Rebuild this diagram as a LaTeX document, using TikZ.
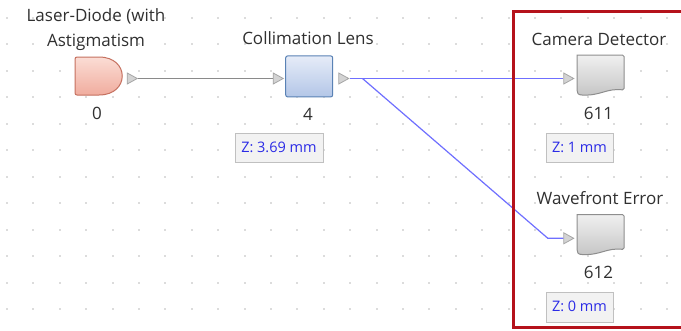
\documentclass[tikz,border=0pt]{standalone}
\usepackage{fontspec}
\setmainfont{Open Sans}
\usetikzlibrary{shapes.geometric,calc}

\definecolor{gridgray}{HTML}{DCDCDC}
\definecolor{labeltext}{HTML}{303030}
\definecolor{zblue}{HTML}{2B2BE6}
\definecolor{zfill}{HTML}{F2F2F2}
\definecolor{zdraw}{HTML}{C0C0C0}
\definecolor{rayblue}{HTML}{6F6FFF}
\definecolor{wiregray}{HTML}{8A8A8A}
\definecolor{portfill}{HTML}{D3D3D3}
\definecolor{portdraw}{HTML}{A6A6A6}
\definecolor{framered}{HTML}{B5121B}
\definecolor{lenstop}{HTML}{E6ECF8}
\definecolor{lensbot}{HTML}{B3C6E7}
\definecolor{lensdraw}{HTML}{5A82B5}
\definecolor{diodetop}{HTML}{FBDDD5}
\definecolor{diodebot}{HTML}{F0AC9E}
\definecolor{diodedraw}{HTML}{C5705F}
\definecolor{dettop}{HTML}{F0F0F0}
\definecolor{detbot}{HTML}{C5C5C5}
\definecolor{detdraw}{HTML}{8E8E8E}

\tikzset{
  lbl/.style={text=labeltext,font=\fontsize{17}{25}\selectfont,inner sep=0},
  port/.style={isosceles triangle,isosceles triangle stretches,minimum width=11,minimum height=10,inner sep=0,fill=portfill,draw=portdraw,line width=0.8},
  zbox/.style={draw=zdraw,fill=zfill,text=zblue,font=\fontsize{14.5}{17}\selectfont,minimum height=29,inner sep=0},
  detector/.style={draw=detdraw,line width=1,top color=dettop,bottom color=detbot},
  ray/.style={line width=1.2,rayblue},
}

\begin{document}
\begin{tikzpicture}[x=1pt,y=-1pt]
\useasboundingbox[fill=white] (0,0) rectangle (681,330);

% dot grid
\foreach \i in {0,...,25}
  \foreach \j in {0,...,11}
    \fill[gridgray] ({5.9+26.4*\i},{18.8+26.5*\j}) rectangle +(2,-2);

% laser diode
\draw[draw=diodedraw,line width=1,top color=diodetop,bottom color=diodebot,rounded corners=2] (75,57) -- (97,57) .. controls (130,57) and (130,95) .. (97,95) -- (75,95) -- cycle;
\node[lbl,align=center] (ld-name) at (96,29.2) {Laser-Diode (with\\Astigmatism};
\node[lbl] (ld-num) at (97,113) {0};
\node[port] (ld-out) at (130.5,78.5) {};

% collimation lens
\node[draw=lensdraw,line width=1,top color=lenstop,bottom color=lensbot,rounded corners=2,minimum width=47,minimum height=41,inner sep=0] (cl) at (309.2,76.4) {};
\node[lbl] (cl-name) at (308,38.5) {Collimation Lens};
\node[lbl] (cl-num) at (308,114) {4};
\node[zbox,minimum width=88] (cl-z) at (279,147.2) {Z: 3.69 mm};
\node[port] (cl-in) at (276.5,78.5) {};
\node[port] (cl-out) at (342,78.5) {};

% camera detector
\draw[detector,rounded corners=1.5] (577,55) -- (624,55) -- (624,90) [sharp corners] .. controls (606,88) and (601,96) .. (582,95) .. controls (578,95) and (577,93) .. (577,90) -- cycle;
\node[lbl] (cam-name) at (599,39.3) {Camera Detector};
\node[lbl] (cam-num) at (598.5,113.3) {611};
\node[zbox,minimum width=67] (cam-z) at (579.5,147.2) {Z: 1 mm};
\node[port] (cam-in) at (567,78.5) {};

% wavefront error
\draw[detector,rounded corners=1.5] (577,214.5) -- (624,214.5) -- (624,249.5) [sharp corners] .. controls (606,247.5) and (601,255.5) .. (582,254.5) .. controls (578,254.5) and (577,252.5) .. (577,249.5) -- cycle;
\node[lbl] (wf-name) at (600,198.3) {Wavefront Error};
\node[lbl] (wf-num) at (598.5,272) {612};
\node[zbox,minimum width=67,minimum height=30] (wf-z) at (579.5,306.7) {Z: 0 mm};
\node[port] (wf-in) at (567,238.3) {};

% connectors
\draw[line width=1.3,wiregray] (ld-out.east) -- (cl-in.west);
\coordinate (split) at (362.5,78.5);
\draw[ray] (cl-out.east) -- (split) -- (cam-in.west);
\draw[ray] (split) -- ($(wf-in.west)+(-15.5,0)$) -- (wf-in.west);

% selection frame
\draw[line width=3,framered] (690,11) -- (513.3,11) -- (513.3,327.5) -- (690,327.5);
\end{tikzpicture}
\end{document}
